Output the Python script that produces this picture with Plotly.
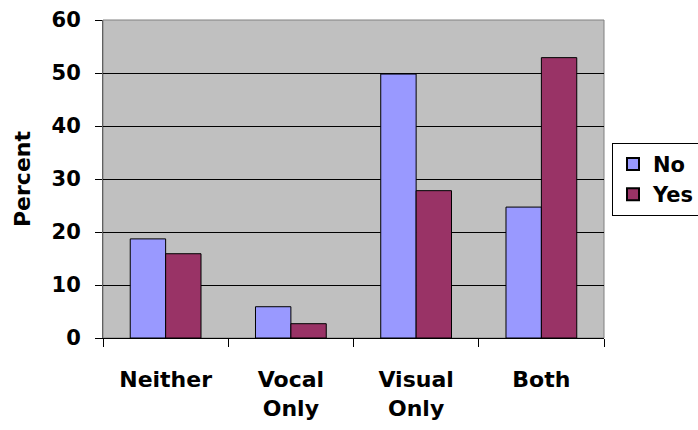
import plotly.graph_objects as go

# Response categories and percentages for each group
categories = ["Neither", "Vocal<br>Only", "Visual<br>Only", "Both"]
no_values = [18.7, 5.9, 49.8, 24.7]
yes_values = [15.9, 2.7, 27.8, 52.9]
y_ticks = [0, 10, 20, 30, 40, 50, 60]

FONT = "DejaVu Sans"

fig = go.Figure()
fig.add_trace(go.Bar(
    name="No", x=categories, y=no_values,
    marker=dict(color="#9999FF", line=dict(color="#000000", width=1)),
))
fig.add_trace(go.Bar(
    name="Yes", x=categories, y=yes_values,
    marker=dict(color="#993366", line=dict(color="#000000", width=1)),
))

fig.update_layout(
    width=698, height=430,
    margin=dict(l=103, r=94, t=20, b=92, autoexpand=False),
    paper_bgcolor="#FFFFFF",
    plot_bgcolor="#C0C0C0",
    barmode="group",
    bargap=0.435,
    bargroupgap=0,
    font=dict(family=FONT, color="#000000", size=22, weight="bold"),
    showlegend=True,
    legend=dict(
        x=1.016, xanchor="left", y=0.614, yanchor="top",
        bgcolor="#FFFFFF", bordercolor="#000000", borderwidth=1,
        font=dict(family=FONT, size=21, color="#000000", weight="bold"),
        itemsizing="constant", tracegroupgap=0,
    ),
    xaxis=dict(
        type="category",
        showline=True, linecolor="#000000", linewidth=1,
        ticks="outside", ticklen=8, tickcolor="#000000",
        tickson="boundaries",
        showgrid=False,
        ticklabelstandoff=22,
        tickfont=dict(family=FONT, size=22, weight="bold"),
        automargin=False,
    ),
    yaxis=dict(
        range=[0, 60],
        tickvals=y_ticks,
        showline=True, linecolor="#606060", linewidth=1,
        ticks="outside", ticklen=7, tickcolor="#000000",
        showgrid=True, gridcolor="#000000", gridwidth=1,
        zeroline=False,
        ticklabelstandoff=10,
        tickfont=dict(family=FONT, size=21, weight="bold"),
        title=dict(text="Percent", standoff=14,
                   font=dict(family=FONT, size=22, weight="bold")),
        automargin=False,
    ),
    shapes=[dict(
        type="rect", xref="paper", yref="paper", x0=0, x1=1, y0=0, y1=1,
        line=dict(color="#808080", width=1), layer="below",
    )],
)

fig.write_html("out.html")
